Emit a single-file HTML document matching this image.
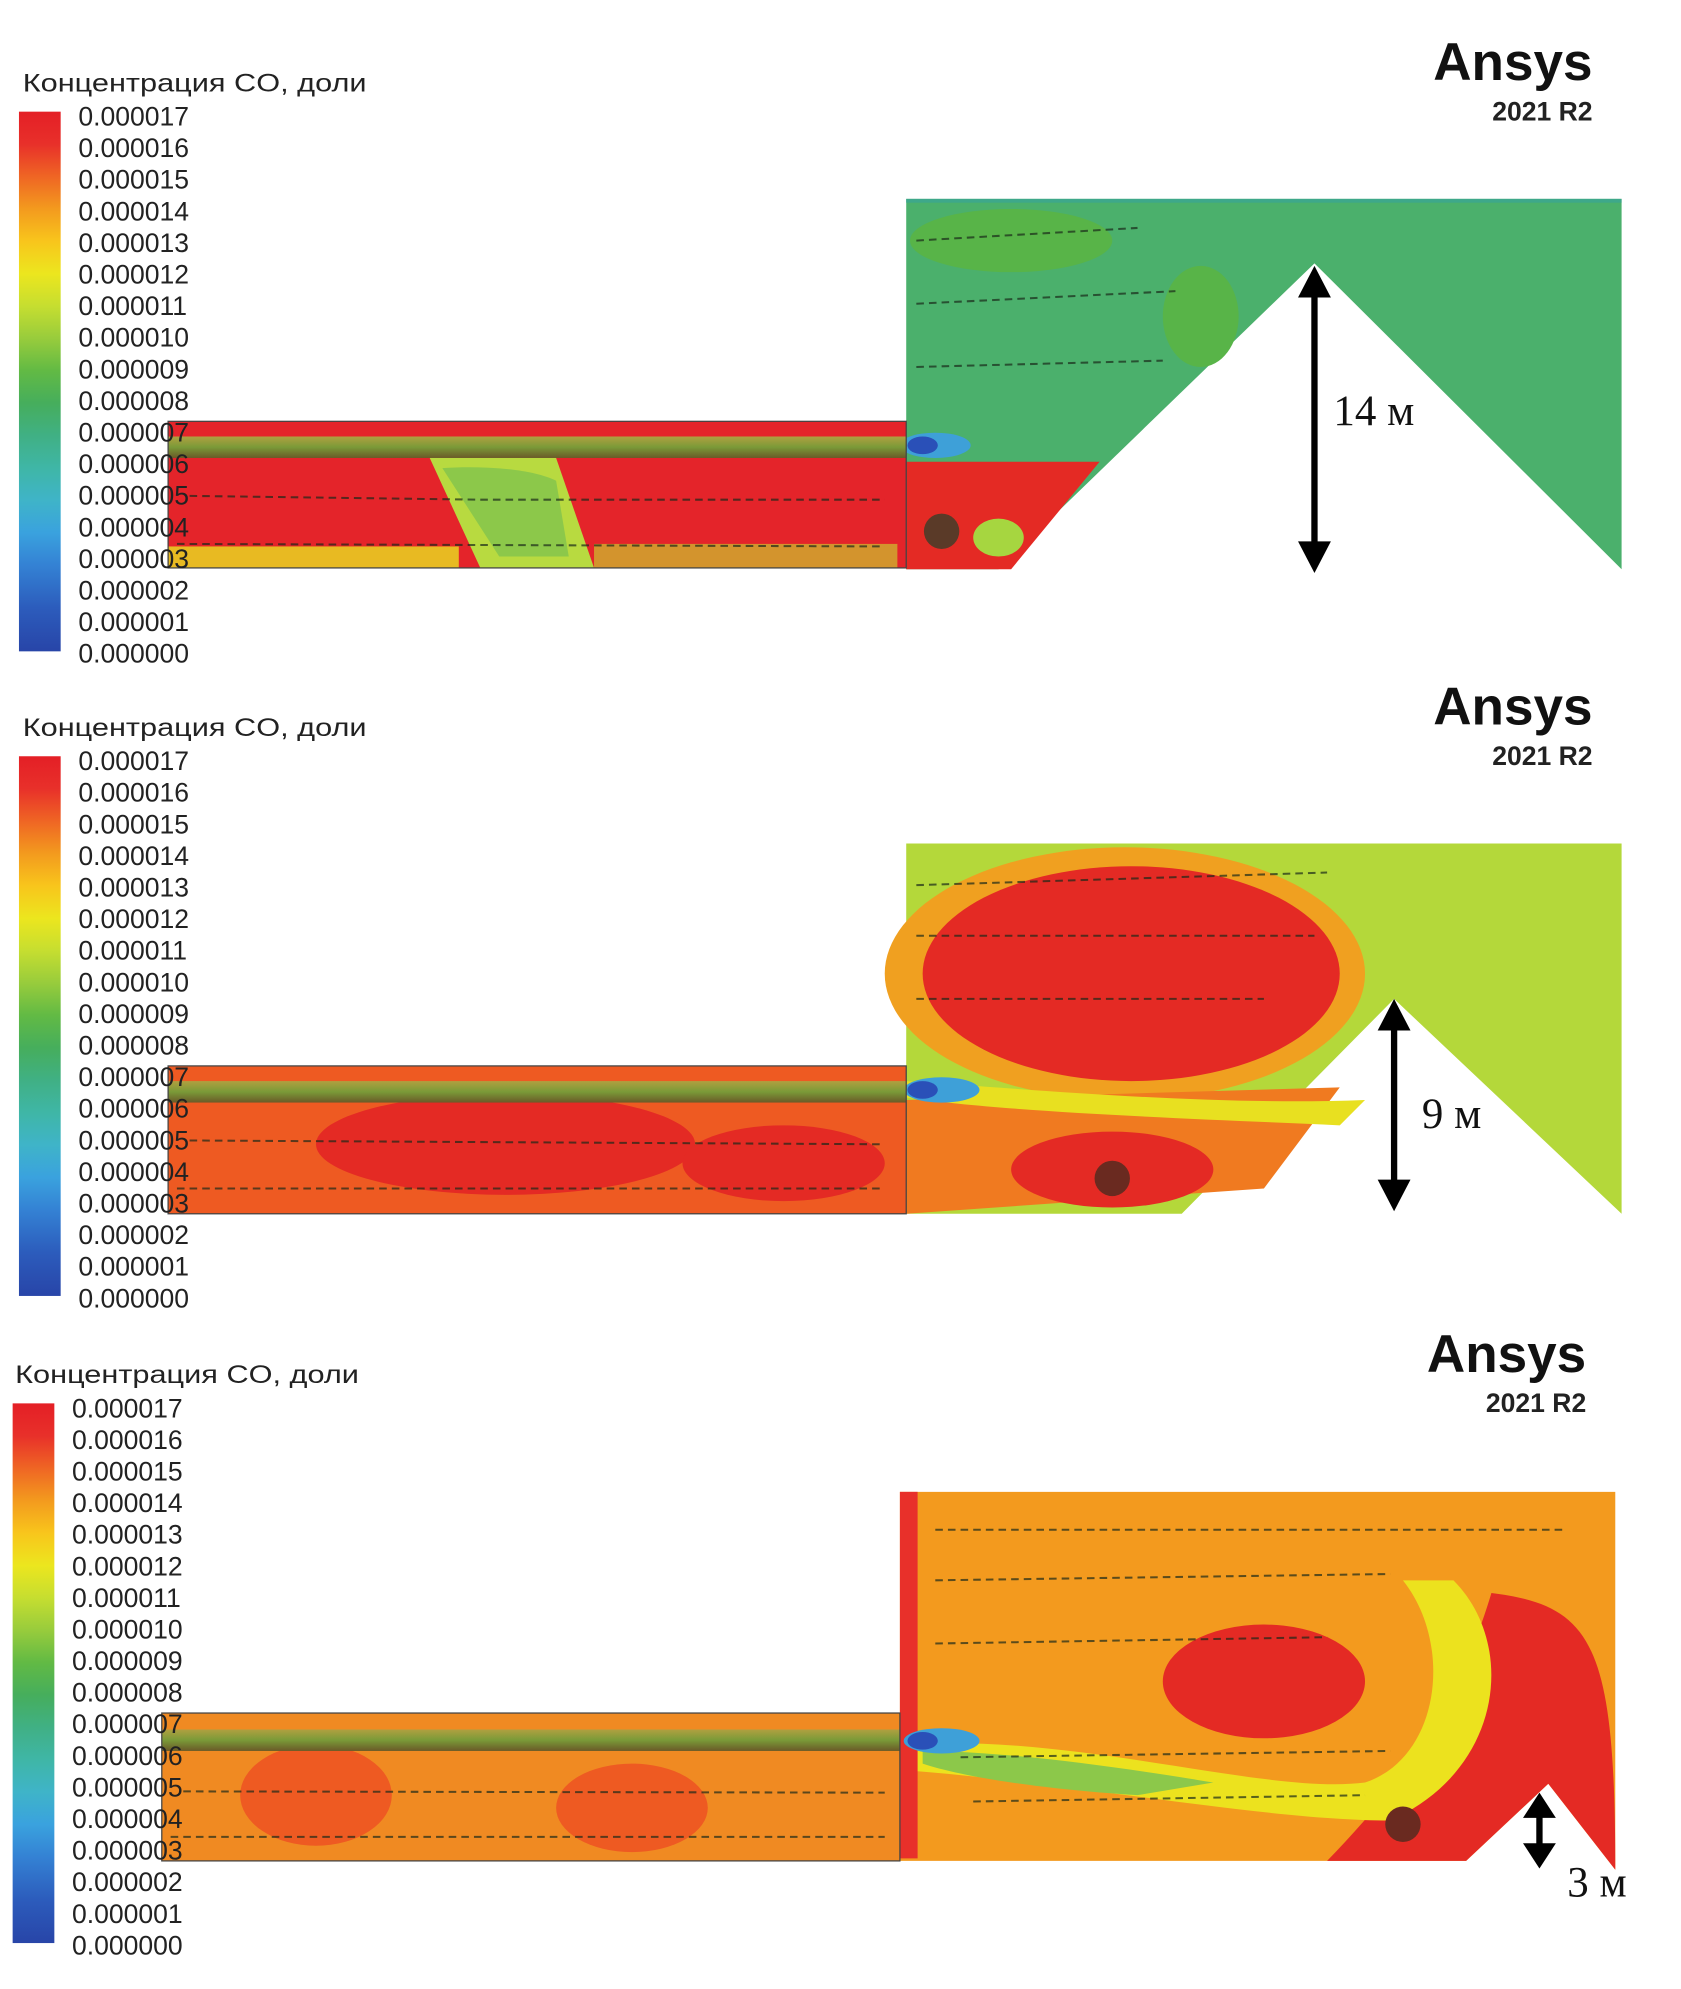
<!DOCTYPE html>
<html><head><meta charset="utf-8"><style>
html,body{margin:0;padding:0;background:#fff;}
svg{display:block}
.lt{font-family:"Liberation Sans",sans-serif;font-size:21px;fill:#222}
.tt{font-family:"Liberation Sans",sans-serif;font-size:20px;fill:#222}
.an{font-family:"Liberation Sans",sans-serif;font-size:42px;font-weight:bold;fill:#111}
.rv{font-family:"Liberation Sans",sans-serif;font-size:21px;font-weight:bold;fill:#222}
.dm{font-family:"Liberation Serif",serif;font-size:34px;fill:#111}
.vec{stroke:#1a2a1a;stroke-width:1.6;stroke-dasharray:6 4;fill:none;opacity:.7}
</style></head><body>
<svg width="1681" height="1989" viewBox="0 0 1330 1573" xmlns="http://www.w3.org/2000/svg">
<defs>
<linearGradient id="cb" x1="0" y1="0" x2="0" y2="1">
<stop offset="0" stop-color="#e41f26"/><stop offset=".06" stop-color="#e8302a"/>
<stop offset=".12" stop-color="#ef6524"/><stop offset=".18" stop-color="#f39a1e"/>
<stop offset=".24" stop-color="#f8c51c"/><stop offset=".30" stop-color="#ece61e"/>
<stop offset=".36" stop-color="#c6de30"/><stop offset=".42" stop-color="#98cc3c"/>
<stop offset=".48" stop-color="#62ba44"/><stop offset=".54" stop-color="#46ae5c"/>
<stop offset=".60" stop-color="#40b084"/><stop offset=".66" stop-color="#3fb6a6"/>
<stop offset=".72" stop-color="#3fb4c8"/><stop offset=".78" stop-color="#3aa2de"/>
<stop offset=".84" stop-color="#3482d4"/><stop offset=".92" stop-color="#2c5cbc"/>
<stop offset="1" stop-color="#2845a8"/></linearGradient>
<linearGradient id="tube" x1="0" y1="0" x2="0" y2="1">
<stop offset="0" stop-color="#b0a040"/><stop offset=".5" stop-color="#7a9a38"/><stop offset="1" stop-color="#6a5a28"/></linearGradient>
</defs>

<!-- ============ PANEL 1 ============ -->
<rect x="15" y="88" width="33" height="427" fill="url(#cb)"/>
<polygon points="717,157 1283,157 1283,450 1040,208 790,450 717,450" fill="#4bb06c"/>
<ellipse cx="800" cy="190" rx="80" ry="25" fill="#58b448"/>
<ellipse cx="950" cy="250" rx="30" ry="40" fill="#58b448"/>
<rect x="717" y="157" width="566" height="3" fill="#3ea88a"/>
<ellipse cx="740" cy="352" rx="28" ry="10" fill="#3ea0d8"/><ellipse cx="730" cy="352" rx="12" ry="7" fill="#2a50b8"/>
<polygon points="717,365 870,365 800,450 717,450" fill="#e42a24"/>
<ellipse cx="790" cy="425" rx="20" ry="15" fill="#a6d640"/>
<circle cx="745" cy="420" r="14" fill="#5a3a28"/>
<rect x="133" y="333" width="584" height="116" fill="#e4242a"/>
<path d="M340,362 C360,355 420,355 440,362 L470,449 L380,449 Z" fill="#b8da40"/>
<path d="M350,370 C380,368 420,370 440,380 L450,440 L395,440 Z" fill="#8cc84a"/>
<rect x="133" y="432" width="230" height="17" fill="#e8e020" opacity=".8"/>
<rect x="470" y="430" width="240" height="19" fill="#c8df30" opacity=".6"/>
<rect x="133" y="345" width="584" height="17" fill="url(#tube)"/>
<rect x="133" y="333" width="584" height="116" fill="none" stroke="#444" stroke-width="1"/>
<path class="vec" d="M150,392 L380,395 L700,395 M140,430 L700,432 M725,190 L900,180 M725,240 L930,230 M725,290 L920,285"/>
<line x1="1040" y1="225" x2="1040" y2="435" stroke="#000" stroke-width="5"/>
<polygon points="1040,210 1027,235 1053,235" fill="#000"/><polygon points="1040,453 1027,428 1053,428" fill="#000"/>
<text class="dm" x="1055" y="336">14 м</text>
<text class="tt" x="18" y="72" textLength="272" lengthAdjust="spacingAndGlyphs">Концентрация CO, доли</text>
<g class="lt">
<text x="62" y="99">0.000017</text><text x="62" y="124">0.000016</text><text x="62" y="149">0.000015</text><text x="62" y="174">0.000014</text><text x="62" y="199">0.000013</text><text x="62" y="224">0.000012</text><text x="62" y="249">0.000011</text><text x="62" y="274">0.000010</text><text x="62" y="299">0.000009</text><text x="62" y="324">0.000008</text><text x="62" y="349">0.000007</text><text x="62" y="374">0.000006</text><text x="62" y="399">0.000005</text><text x="62" y="424">0.000004</text><text x="62" y="449">0.000003</text><text x="62" y="474">0.000002</text><text x="62" y="499">0.000001</text><text x="62" y="524">0.000000</text>
</g>
<text class="an" x="1260" y="63" text-anchor="end">Ansys</text><text class="rv" x="1260" y="95" text-anchor="end">2021 R2</text>

<!-- ============ PANEL 2 ============ -->
<rect x="15" y="598" width="33" height="427" fill="url(#cb)"/>
<polygon points="717,667 1283,667 1283,960 1103,790 935,960 717,960" fill="#b4d83a"/>
<ellipse cx="890" cy="770" rx="190" ry="100" fill="#f0a020"/>
<ellipse cx="895" cy="770" rx="165" ry="85" fill="#e42a24"/>
<path d="M717,870 L1060,860 L1000,940 L717,960 Z" fill="#f07a20"/>
<ellipse cx="880" cy="925" rx="80" ry="30" fill="#e42a24"/>
<path d="M717,855 C800,860 950,875 1080,870 L1060,890 C950,885 800,880 717,868 Z" fill="#e8e020"/>
<ellipse cx="745" cy="862" rx="30" ry="10" fill="#3ea0d8"/><ellipse cx="730" cy="862" rx="12" ry="7" fill="#2a50b8"/>
<circle cx="880" cy="932" r="14" fill="#6a2a20"/>
<rect x="133" y="843" width="584" height="117" fill="#ee5a22"/>
<ellipse cx="400" cy="905" rx="150" ry="40" fill="#e42a24"/>
<ellipse cx="620" cy="920" rx="80" ry="30" fill="#e42a24"/>
<rect x="133" y="855" width="584" height="17" fill="url(#tube)"/>
<rect x="133" y="843" width="584" height="117" fill="none" stroke="#444" stroke-width="1"/>
<path class="vec" d="M150,902 L700,905 M140,940 L700,940 M725,700 L1050,690 M725,740 L1040,740 M725,790 L1000,790"/>
<line x1="1103" y1="808" x2="1103" y2="940" stroke="#000" stroke-width="5"/>
<polygon points="1103,790 1090,815 1116,815" fill="#000"/><polygon points="1103,958 1090,933 1116,933" fill="#000"/>
<text class="dm" x="1125" y="892">9 м</text>
<text class="tt" x="18" y="582" textLength="272" lengthAdjust="spacingAndGlyphs">Концентрация CO, доли</text>
<g class="lt">
<text x="62" y="609">0.000017</text><text x="62" y="634">0.000016</text><text x="62" y="659">0.000015</text><text x="62" y="684">0.000014</text><text x="62" y="709">0.000013</text><text x="62" y="734">0.000012</text><text x="62" y="759">0.000011</text><text x="62" y="784">0.000010</text><text x="62" y="809">0.000009</text><text x="62" y="834">0.000008</text><text x="62" y="859">0.000007</text><text x="62" y="884">0.000006</text><text x="62" y="909">0.000005</text><text x="62" y="934">0.000004</text><text x="62" y="959">0.000003</text><text x="62" y="984">0.000002</text><text x="62" y="1009">0.000001</text><text x="62" y="1034">0.000000</text>
</g>
<text class="an" x="1260" y="573" text-anchor="end">Ansys</text><text class="rv" x="1260" y="605" text-anchor="end">2021 R2</text>

<!-- ============ PANEL 3 ============ -->
<rect x="10" y="1110" width="33" height="427" fill="url(#cb)"/>
<polygon points="712,1180 1278,1180 1278,1479 1225,1411 1160,1472 712,1472" fill="#f39a1e"/>
<path d="M1180,1260 C1260,1270 1278,1300 1278,1479 L1225,1411 L1160,1472 L1050,1472 C1100,1420 1150,1360 1180,1260 Z" fill="#e42a24"/>
<path d="M712,1380 C850,1370 1000,1420 1080,1410 C1140,1390 1150,1300 1110,1250 L1150,1250 C1200,1300 1190,1400 1100,1440 C1000,1440 850,1410 712,1400 Z" fill="#ece21e"/>
<path d="M730,1385 C800,1385 900,1400 960,1410 L900,1420 C820,1415 760,1405 730,1395 Z" fill="#8cc84a"/>
<ellipse cx="1000" cy="1330" rx="80" ry="45" fill="#e42a24"/>
<rect x="712" y="1180" width="14" height="290" fill="#e8302a"/>
<ellipse cx="745" cy="1377" rx="30" ry="10" fill="#3ea0d8"/><ellipse cx="730" cy="1377" rx="12" ry="7" fill="#2a50b8"/>
<circle cx="1110" cy="1443" r="14" fill="#6a2a20"/>
<rect x="128" y="1355" width="584" height="117" fill="#f08a22"/>
<ellipse cx="250" cy="1420" rx="60" ry="40" fill="#ee5a22"/>
<ellipse cx="500" cy="1430" rx="60" ry="35" fill="#ee5a22"/>
<rect x="128" y="1368" width="584" height="17" fill="url(#tube)"/>
<rect x="128" y="1355" width="584" height="117" fill="none" stroke="#444" stroke-width="1"/>
<path class="vec" d="M145,1417 L700,1418 M135,1453 L700,1453 M740,1210 L1240,1210 M740,1250 L1100,1245 M740,1300 L1050,1295 M760,1390 L1100,1385 M770,1425 L1080,1420"/>
<line x1="1218" y1="1432" x2="1218" y2="1460" stroke="#000" stroke-width="5"/>
<polygon points="1218,1418 1205,1438 1231,1438" fill="#000"/><polygon points="1218,1478 1205,1458 1231,1458" fill="#000"/>
<text class="dm" x="1240" y="1500">3 м</text>
<text class="tt" x="12" y="1094" textLength="272" lengthAdjust="spacingAndGlyphs">Концентрация CO, доли</text>
<g class="lt">
<text x="57" y="1121">0.000017</text><text x="57" y="1146">0.000016</text><text x="57" y="1171">0.000015</text><text x="57" y="1196">0.000014</text><text x="57" y="1221">0.000013</text><text x="57" y="1246">0.000012</text><text x="57" y="1271">0.000011</text><text x="57" y="1296">0.000010</text><text x="57" y="1321">0.000009</text><text x="57" y="1346">0.000008</text><text x="57" y="1371">0.000007</text><text x="57" y="1396">0.000006</text><text x="57" y="1421">0.000005</text><text x="57" y="1446">0.000004</text><text x="57" y="1471">0.000003</text><text x="57" y="1496">0.000002</text><text x="57" y="1521">0.000001</text><text x="57" y="1546">0.000000</text>
</g>
<text class="an" x="1255" y="1085" text-anchor="end">Ansys</text><text class="rv" x="1255" y="1117" text-anchor="end">2021 R2</text>
</svg>
</body></html>
